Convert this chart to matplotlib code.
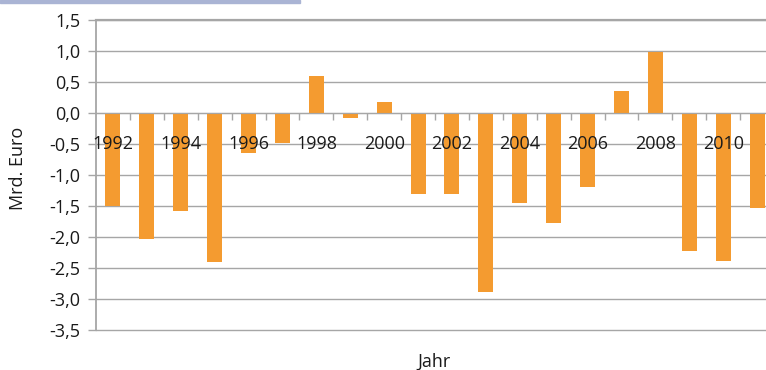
import numpy as np
import matplotlib.pyplot as plt
from matplotlib.ticker import FixedLocator, FuncFormatter

plt.rcParams["font.family"] = ["Open Sans", "DejaVu Sans"]

years = list(range(1992, 2012))
values = [-1.50, -2.03, -1.58, -2.40, -0.65, -0.48, 0.60, -0.08, 0.17, -1.31,
          -1.31, -2.88, -1.45, -1.77, -1.19, 0.36, 0.98, -2.23, -2.39, -1.54]
y_ticks = [1.5, 1.0, 0.5, 0.0, -0.5, -1.0, -1.5, -2.0, -2.5, -3.0, -3.5]

bar_color = "#f49b30"
grid_color = "#a6a6a6"
text_color = "#1a1a1a"
fs = 13

fig = plt.figure(figsize=(7.66, 3.70), dpi=100)
ax = fig.add_axes([96 / 766, 1 - 330 / 370, 678 / 766, 310 / 370])

x = np.arange(len(years))
ax.bar(x, values, width=0.44, color=bar_color, zorder=2)

# grid drawn by hand so the year labels can sit on top of the bars
for v in y_ticks:
    ax.axhline(v, color=grid_color, lw=1.0, zorder=0.5, clip_on=False)

ax.set_xlim(-0.5, len(years) - 0.5)
ax.set_ylim(-3.5, 1.5)
ax.set_axisbelow(False)

ax.set_yticks(y_ticks)
ax.yaxis.set_major_formatter(FuncFormatter(lambda v, p: f"{v:.1f}".replace(".", ",")))
ax.tick_params(axis="y", length=6, width=1, color=grid_color, labelsize=fs,
               labelcolor=text_color, pad=5)

ax.spines["bottom"].set_position(("data", 0))
ax.spines["bottom"].set_color(grid_color)
ax.spines["left"].set_color(grid_color)
ax.spines["left"].set_linewidth(1.3)
ax.spines["top"].set_color(grid_color)
ax.spines["top"].set_linewidth(1.6)
ax.spines["right"].set_visible(False)

ax.xaxis.set_major_locator(FixedLocator(x[::2]))
ax.set_xticklabels([str(y) for y in years[::2]])
ax.xaxis.set_minor_locator(FixedLocator(x[:-1] + 0.5))
ax.tick_params(axis="x", which="major", length=0, labelsize=fs,
               labelcolor=text_color, pad=16)
ax.tick_params(axis="x", which="minor", length=5, width=1, color=grid_color)

fig.text(18 / 766, 1 - 168 / 370, "Mrd. Euro", rotation=90, ha="center",
         va="center", fontsize=fs, color=text_color)
fig.text(434 / 766, 1 - 362 / 370, "Jahr", ha="center", va="center",
         fontsize=fs, color=text_color)

# lavender strip at the top left
fig.patches.append(plt.Rectangle((0, 1 - 3 / 370), 300 / 766, 3 / 370,
                                 transform=fig.transFigure, color="#aab4d4"))

fig.savefig("out.png", dpi=100)
plt.close(fig)
